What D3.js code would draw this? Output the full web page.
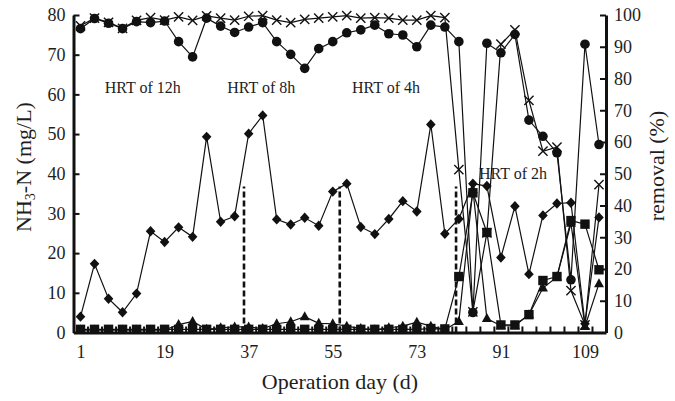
<!DOCTYPE html>
<html>
<head>
<meta charset="utf-8">
<script src="https://cdn.jsdelivr.net/npm/d3@7"></script>
<style>
body { margin: 0; background: #fff; }
svg text { font-family: "Liberation Serif", "Times New Roman", serif; fill: #1e1e1e; }
</style>
</head>
<body>
<div id="chart"></div>
<script>
'use strict';
// operation days (one sample every 3 days)
var days = [1, 4, 7, 10, 13, 16, 19, 22, 25, 28, 31, 34, 37, 40, 43, 46, 49, 52, 55,
    58, 61, 64, 67, 70, 73, 76, 79, 82, 85, 88, 91, 94, 97, 100, 103, 106, 109, 112];

// removal (%), right axis
var removalCircle = [95.7, 98.9, 97.4, 95.7, 97.9, 97.6, 98.1, 91.6, 86.8, 99.0, 96.5, 94.5, 96.2,
    97.6, 91.6, 87.6, 83.2, 89.4, 91.6, 94.4, 95.3, 96.8, 94.1, 93.7, 90.0, 96.8, 96.2,
    91.6, 6.3, 91.1, 88.1, 93.9, 66.9, 61.8, 56.6, 16.6, 90.8, 59.2];
var removalCross = [96.6, 99.0, 97.7, 95.8, 98.3, 99.2, 98.4, 99.4, 98.3, 99.7, 99.0, 98.4, 99.6,
    99.8, 98.4, 97.6, 98.6, 99.0, 99.4, 99.8, 99.0, 99.2, 99.0, 98.4, 98.4, 99.8, 99.2,
    51.3, 6.5, 31.4, 90.8, 95.3, 73.1, 57.1, 58.4, 13.2, 2.4, 46.6];

// NH3-N (mg/L), left axis
var nh3Diamond = [4.0, 17.3, 8.5, 5.1, 9.8, 25.5, 22.8, 26.5, 24.1, 49.3, 27.9, 29.3, 50.1,
    54.7, 28.5, 27.2, 28.9, 26.9, 35.5, 37.5, 26.6, 24.8, 28.6, 33.1, 30.5, 52.4, 24.9,
    28.6, 37.5, 36.9, 18.9, 31.8, 14.7, 29.5, 32.5, 32.7, 2.2, 29.0];
var nh3Square = [0.8, 0.8, 0.8, 0.8, 0.8, 0.8, 0.8, 0.8, 0.8, 0.8, 0.8, 0.8, 0.8,
    0.8, 0.8, 0.8, 0.8, 0.8, 0.8, 0.8, 0.8, 0.8, 0.8, 0.8, 0.8, 1.0, 0.9,
    14.1, 35.2, 25.2, 1.9, 1.9, 4.5, 13.1, 14.1, 28.2, 27.3, 15.8];
var nh3Triangle = [0.6, 0.6, 0.6, 0.6, 0.6, 0.6, 0.6, 2.0, 2.8, 0.8, 1.2, 1.4, 1.4,
    1.0, 2.2, 2.7, 4.0, 2.3, 2.2, 1.6, 1.0, 0.7, 1.2, 1.6, 2.6, 1.6, 0.7,
    2.8, 36.0, 3.5, 1.7, 1.7, 4.5, 11.2, 14.0, 27.5, 1.5, 12.3];

var leftTicks = [0, 10, 20, 30, 40, 50, 60, 70, 80];
var rightTicks = [0, 10, 20, 30, 40, 50, 60, 70, 80, 90, 100];
var dayLabels = [1, 19, 37, 55, 73, 91, 109];

var hrtNames = ['HRT of 12h', 'HRT of 8h', 'HRT of 4h', 'HRT of 2h'];
var hrtDay = [6.2, 32.4, 59.1, 86.3];
var hrtLevel = [60.3, 60.3, 60.3, 38.8];
var hrtBreaks = [36.0, 56.5, 81.4];
var breakTop = 36.8;

var width = 675,
    height = 401;

var svg = d3.select('#chart').append('svg')
    .attr('width', width)
    .attr('height', height);

var x = d3.scaleLinear().domain([-0.5, 113.5]).range([73.5, 606]);
var yL = d3.scaleLinear().domain([0, 80]).range([332.5, 15]);
var yR = d3.scaleLinear().domain([0, 100]).range([332.5, 15]);

// vertical dashed separators
svg.append('g').selectAll('line').data(hrtBreaks).enter().append('line')
    .attr('x1', function (d) { return x(d); })
    .attr('x2', function (d) { return x(d); })
    .attr('y1', yL(0))
    .attr('y2', yL(breakTop))
    .attr('stroke', '#111')
    .attr('stroke-width', 2.6)
    .attr('stroke-dasharray', '6,3');

svg.append('g').selectAll('text').data(hrtNames).enter().append('text')
    .attr('x', function (d, i) { return x(hrtDay[i]); })
    .attr('y', function (d, i) { return yL(hrtLevel[i]); })
    .attr('font-size', 16)
    .text(function (d) { return d; });

var marks = {
    circle: function (s) { s.append('circle').attr('r', 4.8); },
    diamond: function (s) { s.append('path').attr('d', 'M0,-5.2L4.8,0L0,5.2L-4.8,0Z'); },
    square: function (s) { s.append('rect').attr('x', -4.7).attr('y', -4.7).attr('width', 9.4).attr('height', 9.4); },
    triangle: function (s) { s.append('path').attr('d', 'M0,-5.5L5,3.5L-5,3.5Z'); },
    cross: function (s) {
        s.append('path').attr('d', 'M-4.6,-4.6L4.6,4.6M-4.6,4.6L4.6,-4.6')
            .attr('stroke', '#111').attr('stroke-width', 1.4).attr('fill', 'none');
    }
};

var series = [
    { values: nh3Triangle, y: yL, mark: 'triangle' },
    { values: nh3Square, y: yL, mark: 'square' },
    { values: nh3Diamond, y: yL, mark: 'diamond' },
    { values: removalCross, y: yR, mark: 'cross' },
    { values: removalCircle, y: yR, mark: 'circle' }
];

series.forEach(function (sr) {
    var pts = days.map(function (d, i) { return [d, sr.values[i]]; });
    var line = d3.line()
        .x(function (p) { return x(p[0]); })
        .y(function (p) { return sr.y(p[1]); });
    svg.append('path')
        .attr('d', line(pts))
        .attr('fill', 'none')
        .attr('stroke', '#111')
        .attr('stroke-width', 1.2);
    svg.append('g').attr('fill', '#111').selectAll('g').data(pts).enter().append('g')
        .attr('transform', function (p) { return 'translate(' + x(p[0]) + ',' + sr.y(p[1]) + ')'; })
        .call(marks[sr.mark]);
});

// axes
var leftAxis = svg.append('g')
    .attr('transform', 'translate(' + x(-0.5) + ',0)')
    .call(d3.axisLeft(yL).tickValues(leftTicks).tickSizeInner(-6).tickSizeOuter(0).tickPadding(8));
var rightAxis = svg.append('g')
    .attr('transform', 'translate(' + x(113.5) + ',0)')
    .call(d3.axisRight(yR).tickValues(rightTicks).tickSizeInner(-6).tickSizeOuter(0).tickPadding(8));
var tickDays = days.map(function (d) { return d - 1.5; }).concat([113.5]);
var bottomTicks = svg.append('g')
    .attr('transform', 'translate(0,' + yL(0) + ')')
    .call(d3.axisBottom(x).tickValues(tickDays).tickSizeInner(-6).tickSizeOuter(0).tickFormat(''));
var bottomLabels = svg.append('g')
    .attr('transform', 'translate(0,' + yL(0) + ')')
    .call(d3.axisBottom(x).tickValues(dayLabels).tickSize(0).tickPadding(13));
bottomLabels.select('.domain').remove();

[leftAxis, rightAxis, bottomTicks].forEach(function (g) {
    g.select('.domain').attr('stroke', '#111').attr('stroke-width', 3);
    g.selectAll('.tick line').attr('stroke', '#111').attr('stroke-width', 2);
});
svg.selectAll('.tick text')
    .attr('font-family', '"Liberation Serif", "Times New Roman", serif')
    .attr('font-size', 18)
    .attr('fill', '#1e1e1e');

// axis titles
var yTitle = svg.append('text')
    .attr('transform', 'translate(31,167) rotate(-90)')
    .attr('text-anchor', 'middle')
    .attr('font-size', 22);
yTitle.append('tspan').text('NH');
yTitle.append('tspan').attr('font-size', 14).attr('dy', 4).text('3');
yTitle.append('tspan').attr('dy', -4).text('-N (mg/L)');

svg.append('text')
    .attr('transform', 'translate(664,166) rotate(-90)')
    .attr('text-anchor', 'middle')
    .attr('font-size', 22)
    .text('removal (%)');

svg.append('text')
    .attr('x', 340)
    .attr('y', 389)
    .attr('text-anchor', 'middle')
    .attr('font-size', 22)
    .text('Operation day (d)');
</script>
</body>
</html>
